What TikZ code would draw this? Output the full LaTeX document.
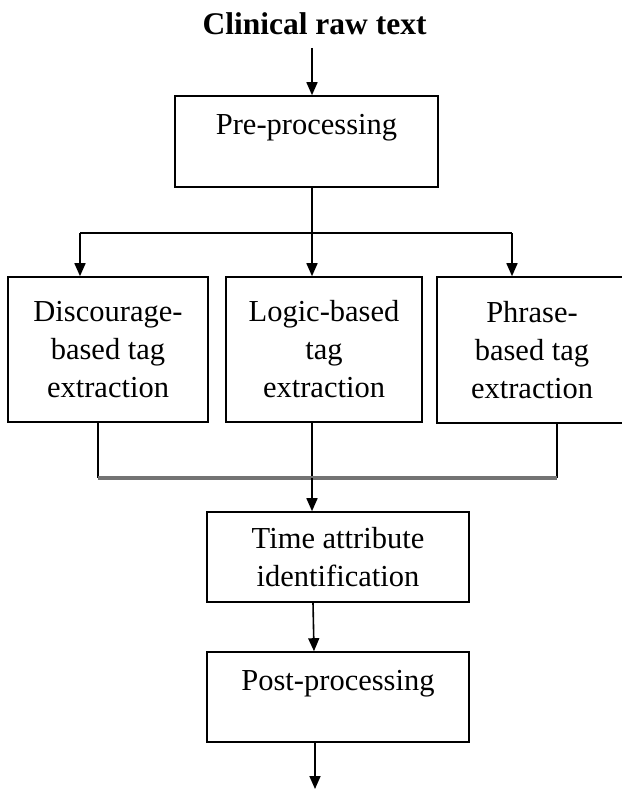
\documentclass[tikz,border=0pt]{standalone}
\usepackage{fontspec}
\setmainfont{Liberation Serif}
\usetikzlibrary{arrows.meta}
\begin{document}
\begin{tikzpicture}[x=1pt,y=1pt,
    box/.style={draw,line width=1.6pt,rectangle,align=center,inner sep=0pt,
        font=\fontsize{30.5pt}{38pt}\selectfont},
    arr/.style={line width=1.6pt,-{Triangle[width=11pt,length=13pt]}},
    lin/.style={line width=1.6pt}]
    \useasboundingbox (0,0) rectangle (621,-789);
    \node [anchor=base,font=\fontsize{31.5pt}{38pt}\selectfont\bfseries] (title) at (314.5,-35) {Clinical raw text};
    \node [box,minimum width=263pt,minimum height=91pt] (pre) at (306.5,-141.5) {Pre-processing\\[-16pt]\strut};
    \node [box,minimum width=200pt,minimum height=145pt] (disc) at (108,-349.5) {Discourage-\\based tag\\extraction};
    \node [box,minimum width=196pt,minimum height=145pt] (logic) at (324,-349.5) {Logic-based\\tag\\extraction};
    \node [box,minimum width=190pt,minimum height=146pt] (phrase) at (532,-350) {Phrase-\\based tag\\extraction};
    \node [box,minimum width=262pt,minimum height=90pt] (time) at (338,-557) {Time attribute\\identification};
    \node [box,minimum width=262pt,minimum height=90pt] (post) at (338,-697) {Post-processing\\[-16pt]\strut};
    \coordinate (split) at (312,-233);
    \coordinate (sl) at (80,-233);
    \coordinate (sr) at (512,-233);
    \coordinate (merge) at (312,-478);
    \coordinate (ml) at (98,-478);
    \coordinate (mr) at (557,-478);
    \coordinate (out) at (315,-789);
    % top
    \draw [arr] (312,-48) -- (pre.north -| split);
    \draw [lin] (pre.south -| split) -- (split);
    \draw [lin] (sl) -- (sr);
    \draw [arr] (sl) -- (disc.north -| sl);
    \draw [arr] (split) -- (logic.north -| split);
    \draw [arr] (sr) -- (phrase.north -| sr);
    % join
    \draw [lin] (disc.south -| ml) -- (ml);
    \draw [lin] (logic.south -| merge) -- (merge);
    \draw [lin] (phrase.south -| mr) -- (mr);
    \draw [line width=3.5pt,color=black!55] (ml) -- (mr);
    \draw [arr] (merge) -- (time.north -| merge);
    \draw [arr] (time.south -| 313,0) -- (post.north -| 314,0);
    \draw [arr] (post.south -| out) -- (out);
\end{tikzpicture}
\end{document}
